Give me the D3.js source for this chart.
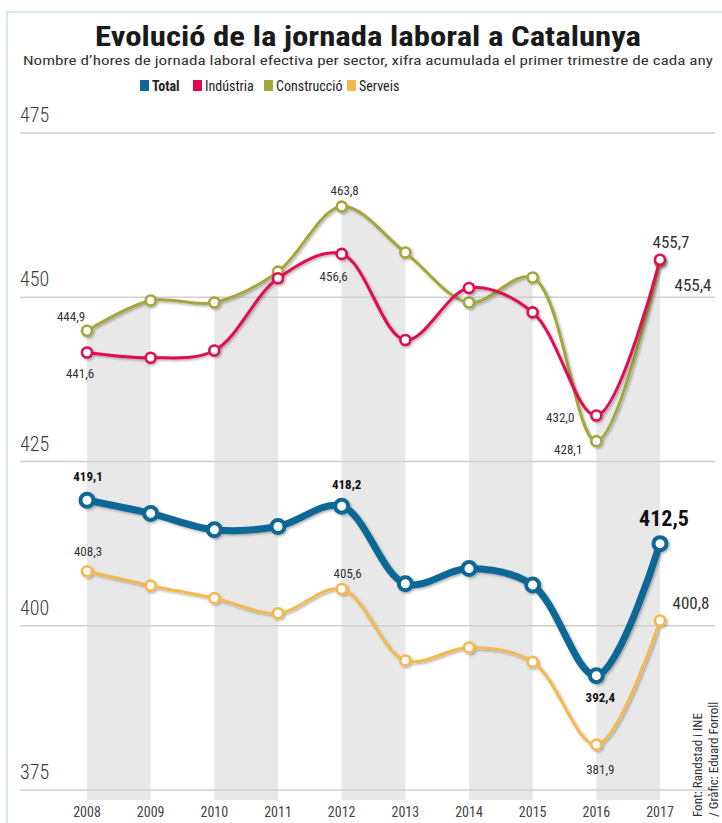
<!DOCTYPE html>
<html><head><meta charset="utf-8">
<script src="https://cdn.jsdelivr.net/npm/d3@7"></script>
<style>
html,body{margin:0;padding:0;background:#fff;}
svg{display:block;}
text{font-family:"Liberation Sans Narrow","Roboto Condensed","Open Sans",sans-serif;}
</style></head>
<body>
<svg id="chart" width="722" height="823"></svg>
<script>
// ---- data ----
const years = [2008, 2009, 2010, 2011, 2012, 2013, 2014, 2015, 2016, 2017];
const total = [419.1, 417.1, 414.6, 415.1, 418.2, 406.4, 408.7, 406.2, 392.4, 412.5];
const industria = [441.6, 440.8, 441.9, 452.9, 456.6, 443.5, 451.4, 447.7, 432.0, 455.7];
const construccio = [444.9, 449.5, 449.2, 453.9, 463.8, 456.8, 449.2, 453.0, 428.1, 455.4];
const serveis = [408.3, 406.1, 404.2, 401.9, 405.6, 394.7, 396.7, 394.5, 381.9, 400.8];
const yTicks = [375, 400, 425, 450, 475];
const seriesNames = ["Total", "Indústria", "Construcció", "Serveis"];

const title = "Evolució de la jornada laboral a Catalunya";
const subtitle = "Nombre d’hores de jornada laboral efectiva per sector, xifra acumulada el primer trimestre de cada any";
const source1 = "Font: Randstad i INE";
const source2 = "/ Gràfic: Eduard Forroll";

// ---- styles ----
const colors = {"Total": "#0f6796", "Indústria": "#e2084f", "Construcció": "#a3a63b", "Serveis": "#f5b84d"};
const seriesData = {"Total": total, "Indústria": industria, "Construcció": construccio, "Serveis": serveis};
const lineW = {"Total": 7, "Indústria": 3, "Construcció": 3, "Serveis": 3};
const dotR = {"Total": 6.5, "Indústria": 5, "Construcció": 5, "Serveis": 5};
const dotW = {"Total": 4, "Indústria": 2.6, "Construcció": 2.6, "Serveis": 2.6};

// label annotations: series, year index, offsets and style
const annots = [
  {s: "Construcció", i: 0, dx: -16, dy: -10, a: "middle", fs: 13, fw: 400},
  {s: "Indústria", i: 0, dx: -7, dy: 26, a: "middle", fs: 13, fw: 400},
  {s: "Construcció", i: 4, dx: 3, dy: -12, a: "middle", fs: 13, fw: 400},
  {s: "Indústria", i: 4, dx: -8, dy: 27, a: "middle", fs: 13, fw: 400},
  {s: "Indústria", i: 9, dx: 11, dy: -12, a: "middle", fs: 17, fw: 400},
  {s: "Construcció", i: 9, dx: 33, dy: 29, a: "middle", fs: 17, fw: 400},
  {s: "Indústria", i: 8, dx: -22, dy: 6, a: "end", fs: 13, fw: 400},
  {s: "Construcció", i: 8, dx: -14, dy: 13, a: "end", fs: 13, fw: 400},
  {s: "Total", i: 0, dx: 1, dy: -19, a: "middle", fs: 13, fw: 700},
  {s: "Total", i: 4, dx: 5, dy: -17, a: "middle", fs: 13, fw: 700},
  {s: "Total", i: 9, dx: 4, dy: -18, a: "middle", fs: 22, fw: 700},
  {s: "Total", i: 8, dx: 4, dy: 26, a: "middle", fs: 13, fw: 700},
  {s: "Serveis", i: 0, dx: 1, dy: -15, a: "middle", fs: 13, fw: 400},
  {s: "Serveis", i: 4, dx: 6, dy: -11, a: "middle", fs: 13, fw: 400},
  {s: "Serveis", i: 9, dx: 31, dy: -11, a: "middle", fs: 17, fw: 400},
  {s: "Serveis", i: 8, dx: 4, dy: 29, a: "middle", fs: 13, fw: 400}
];

const svg = d3.select("#chart");
const W = 722, H = 823;

// frame
svg.append("line").attr("x1", 6).attr("x2", W).attr("y1", 12).attr("y2", 12)
  .attr("stroke", "#d3e8f1").attr("stroke-width", 2);
svg.append("line").attr("x1", 7).attr("x2", 7).attr("y1", 12).attr("y2", H)
  .attr("stroke", "#d3e8f1").attr("stroke-width", 2);

// shadow filter
const defs = svg.append("defs");
const f = defs.append("filter").attr("id", "sh").attr("x", "-10%").attr("y", "-10%").attr("width", "120%").attr("height", "120%");
f.append("feDropShadow").attr("dx", 1.5).attr("dy", 1.5).attr("stdDeviation", 0.8)
  .attr("flood-color", "#000").attr("flood-opacity", 0.3);

// scales
const x = d3.scalePoint().domain(years).range([87, 660]);
const y = d3.scaleLinear().domain([375, 475]).range([790, 133]);
const bandBottom = 800;

// clip: area under the upper curves
const curve = d3.curveCatmullRom.alpha(0.5);
const area = d3.area().x((d, i) => x(years[i])).y0(bandBottom).y1(d => y(d)).curve(curve);
const clip = defs.append("clipPath").attr("id", "bandclip");
clip.append("path").attr("d", area(construccio));
clip.append("path").attr("d", area(industria));

// grey bands (even year to next year)
const step = x.step();
svg.append("g").attr("clip-path", "url(#bandclip)")
  .selectAll("rect").data(years.filter(yr => yr % 2 === 0))
  .join("rect")
  .attr("x", d => x(d)).attr("width", step)
  .attr("y", 100).attr("height", bandBottom - 100)
  .attr("fill", "#e8e8e8");

// gridlines & y labels
const grid = svg.append("g");
grid.selectAll("line").data(yTicks).join("line")
  .attr("x1", 20).attr("x2", 715)
  .attr("y1", d => y(d)).attr("y2", d => y(d))
  .attr("stroke", "#cfcfcf").attr("stroke-width", 1.5);
grid.selectAll("text").data(yTicks).join("text")
  .attr("x", 20).attr("y", d => y(d) - 11)
  .attr("font-size", 20).attr("fill", "#3a3a3a").attr("font-weight", 300)
  .text(d => d);

// x axis labels
svg.append("g").selectAll("text").data(years).join("text")
  .attr("x", d => x(d)).attr("y", 817)
  .attr("text-anchor", "middle").attr("font-size", 14).attr("fill", "#444")
  .text(d => d);

// lines
const line = d3.line().x((d, i) => x(years[i])).y(d => y(d)).curve(curve);
const order = ["Serveis", "Total", "Construcció", "Indústria"];
order.forEach(name => {
  const g = svg.append("g").attr("filter", "url(#sh)");
  g.append("path").attr("d", line(seriesData[name]))
    .attr("fill", "none").attr("stroke", colors[name])
    .attr("stroke-width", lineW[name]).attr("stroke-linecap", "round");
  g.selectAll("circle").data(seriesData[name]).join("circle")
    .attr("cx", (d, i) => x(years[i])).attr("cy", d => y(d))
    .attr("r", dotR[name]).attr("fill", "#fff")
    .attr("stroke", colors[name]).attr("stroke-width", dotW[name]);
});

// value labels
const fmt = v => d3.format(".1f")(v).replace(".", ",");
svg.append("g").selectAll("text").data(annots).join("text")
  .attr("x", d => x(years[d.i]) + d.dx)
  .attr("y", d => y(seriesData[d.s][d.i]) + d.dy)
  .attr("text-anchor", d => d.a)
  .attr("font-size", d => d.fs).attr("font-weight", d => d.fw)
  .attr("fill", d => d.fw === 700 ? "#111" : "#333")
  .text(d => fmt(seriesData[d.s][d.i]));

// title
svg.append("text").attr("x", 368).attr("y", 46).attr("text-anchor", "middle")
  .attr("font-size", 28).attr("font-weight", 700).attr("fill", "#1a1a1a")
  .attr("textLength", 546).attr("lengthAdjust", "spacingAndGlyphs")
  .text(title);
svg.append("text").attr("x", 368).attr("y", 65).attr("text-anchor", "middle")
  .attr("font-size", 13.5).attr("fill", "#333")
  .attr("textLength", 690).attr("lengthAdjust", "spacingAndGlyphs")
  .text(subtitle);

// legend
const legX = [140, 193, 264, 347];
const leg = svg.append("g");
seriesNames.forEach((name, i) => {
  leg.append("rect").attr("x", legX[i]).attr("y", 80).attr("width", 9).attr("height", 11)
    .attr("fill", colors[name]);
  leg.append("text").attr("x", legX[i] + 12).attr("y", 91)
    .attr("font-size", 14).attr("fill", "#222")
    .attr("font-weight", name === "Total" ? 700 : 400)
    .text(name);
});

// source (rotated)
svg.append("text").attr("transform", "translate(702,817) rotate(-90)")
  .attr("font-size", 13).attr("fill", "#333").text(source1);
svg.append("text").attr("transform", "translate(718,817) rotate(-90)")
  .attr("font-size", 13).attr("fill", "#333").text(source2);
</script>
</body></html>
